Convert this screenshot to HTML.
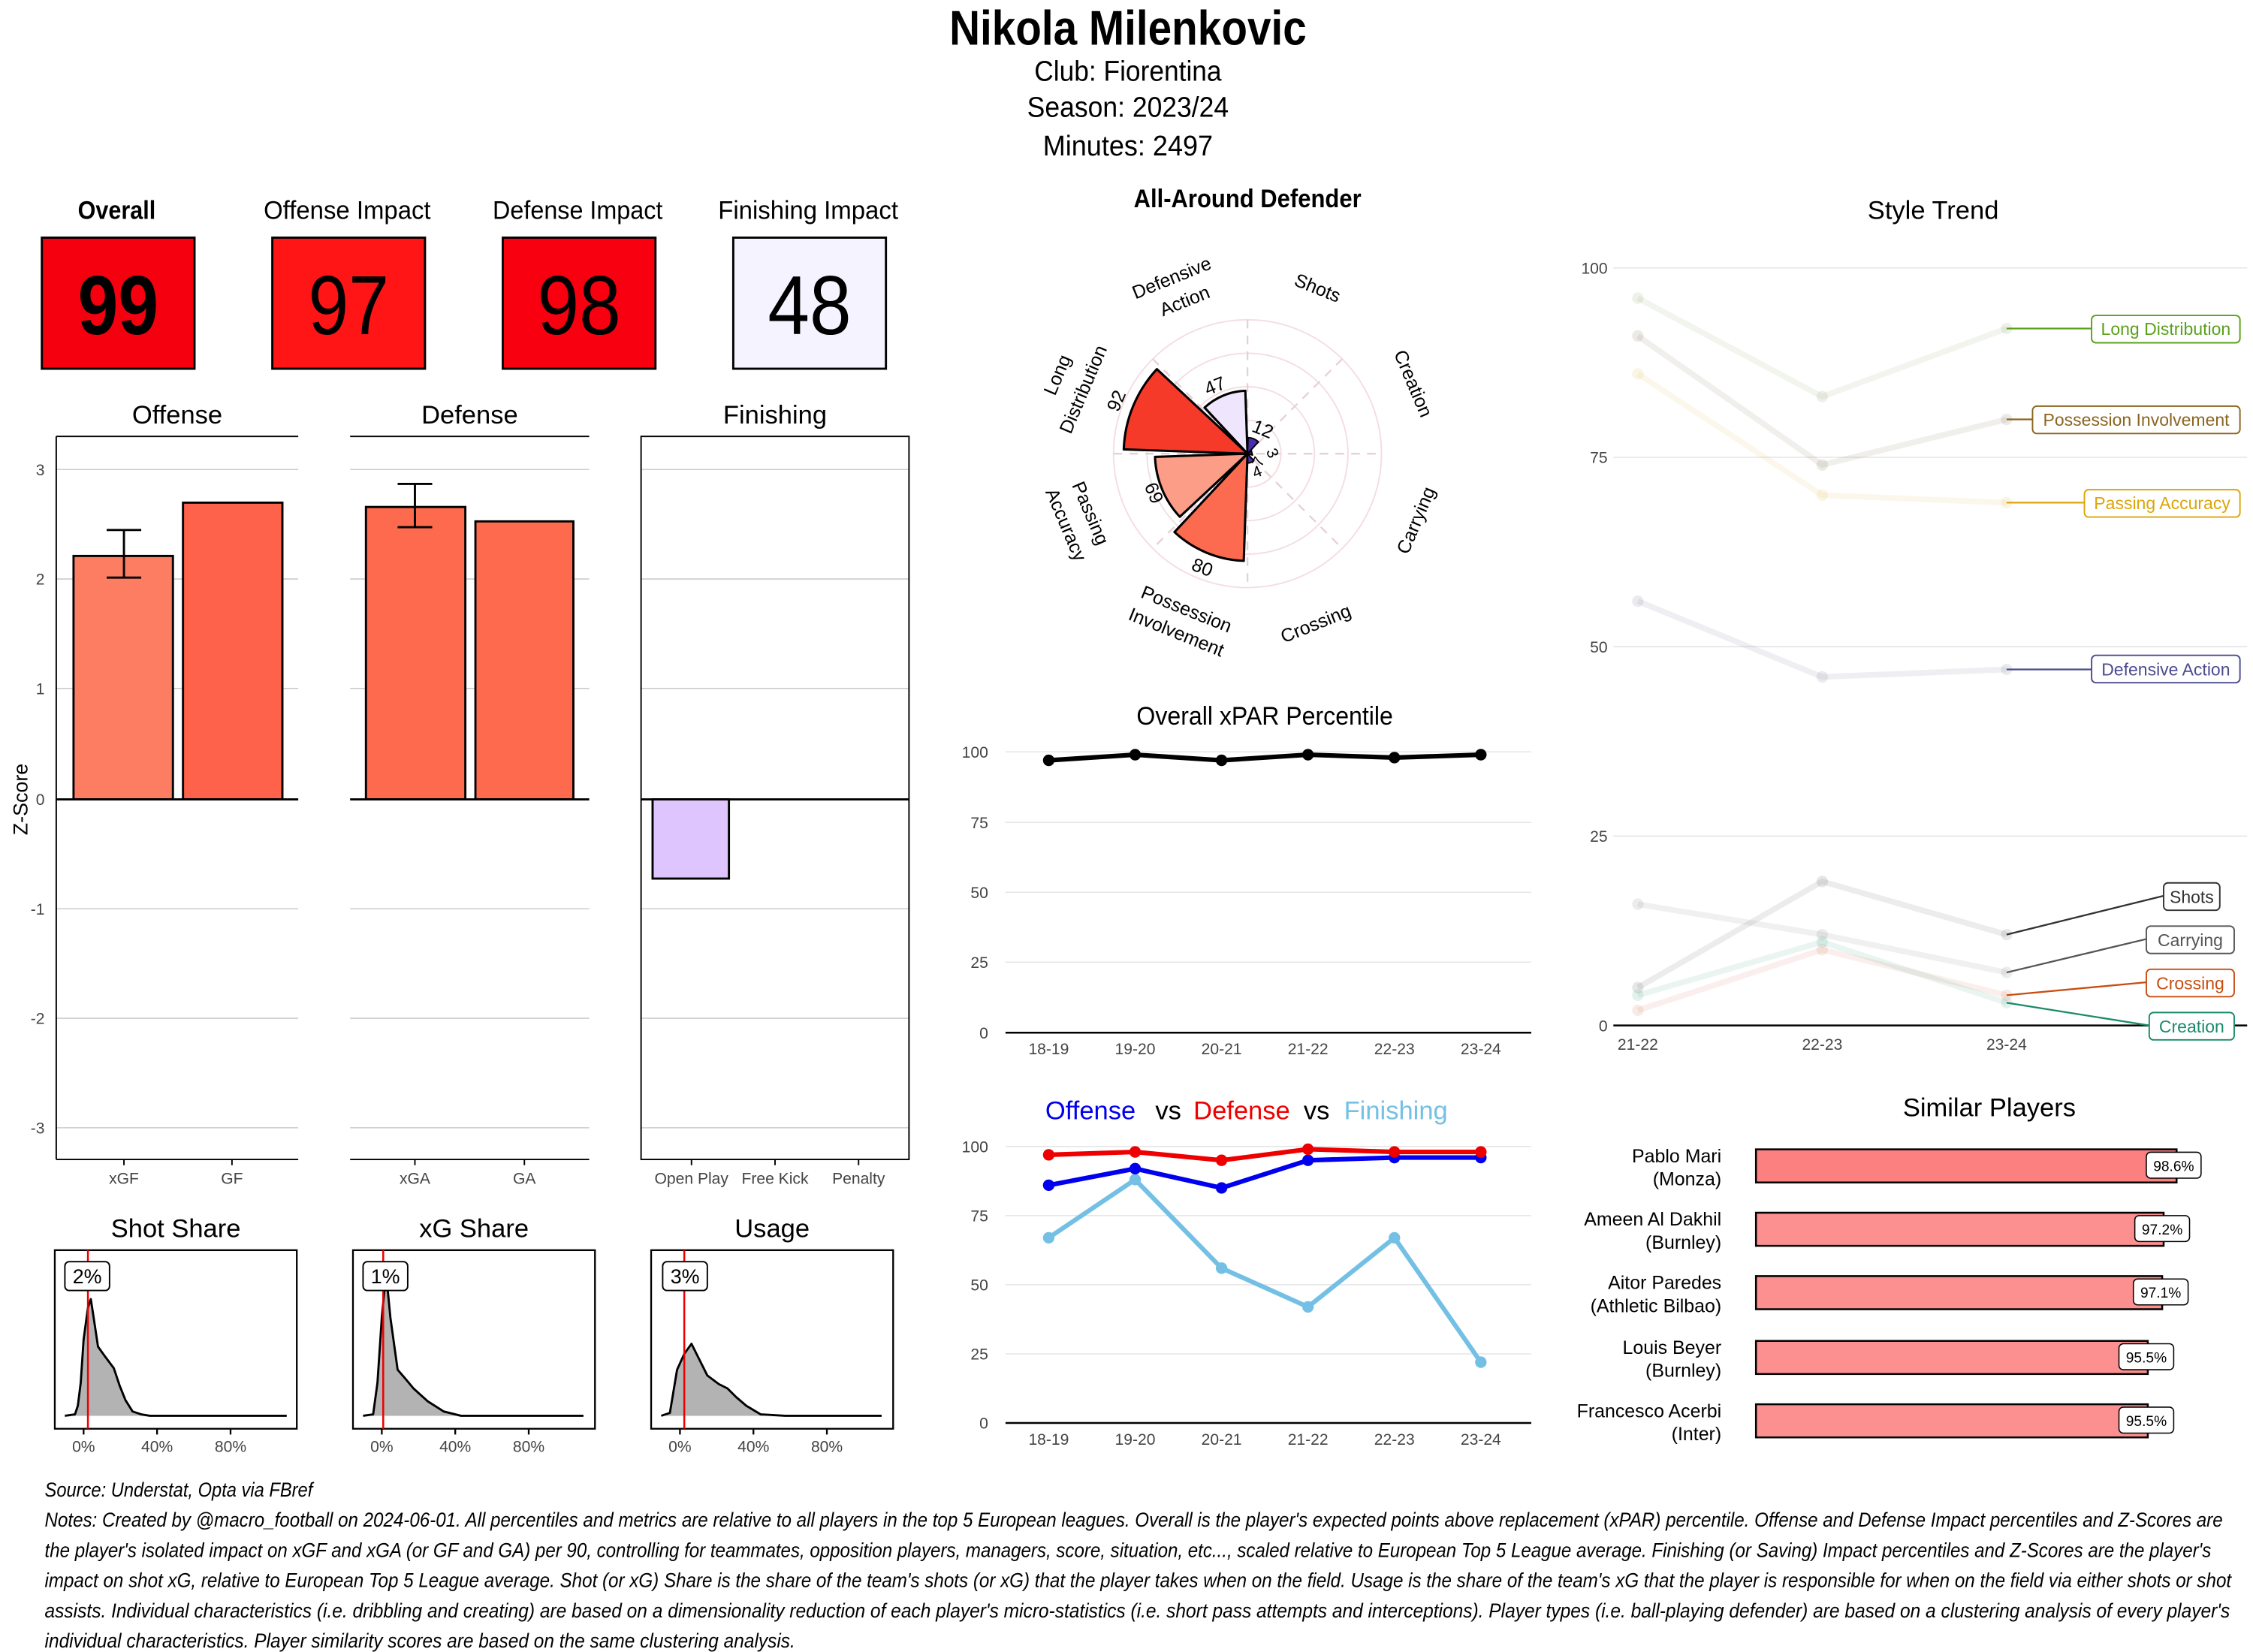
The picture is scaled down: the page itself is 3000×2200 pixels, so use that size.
<!DOCTYPE html>
<html><head><meta charset="utf-8"><style>html,body{margin:0;padding:0;background:#fff}svg{display:block}</style></head><body>
<svg width="3000" height="2200" viewBox="0 0 1564 1147" xmlns="http://www.w3.org/2000/svg" font-family="'Liberation Sans', sans-serif">
<rect width="1564" height="1147" fill="#fff"/>
<text x="783" y="31" text-anchor="middle" font-size="34" font-weight="bold" textLength="248" lengthAdjust="spacingAndGlyphs">Nikola Milenkovic</text>
<text x="783" y="56" text-anchor="middle" font-size="20" textLength="130" lengthAdjust="spacingAndGlyphs">Club:  Fiorentina</text>
<text x="783" y="81" text-anchor="middle" font-size="20" textLength="140" lengthAdjust="spacingAndGlyphs">Season:  2023/24</text>
<text x="783" y="108" text-anchor="middle" font-size="20" textLength="118" lengthAdjust="spacingAndGlyphs">Minutes:  2497</text>

<g font-size="18" text-anchor="middle">
<text x="81" y="152" font-weight="bold" textLength="54" lengthAdjust="spacingAndGlyphs">Overall</text>
<text x="241" y="152" textLength="116" lengthAdjust="spacingAndGlyphs">Offense Impact</text>
<text x="401" y="152" textLength="118" lengthAdjust="spacingAndGlyphs">Defense Impact</text>
<text x="561" y="152" textLength="125" lengthAdjust="spacingAndGlyphs">Finishing Impact</text>
</g>
<rect x="29" y="165" width="106" height="91" fill="#f5000f" stroke="#000" stroke-width="1.5"/>
<rect x="189" y="165" width="106" height="91" fill="#ff1515" stroke="#000" stroke-width="1.5"/>
<rect x="349" y="165" width="106" height="91" fill="#f80010" stroke="#000" stroke-width="1.5"/>
<rect x="509" y="165" width="106" height="91" fill="#f5f3ff" stroke="#000" stroke-width="1.5"/>
<g font-size="58" text-anchor="middle">
<text x="82" y="232" font-weight="bold" textLength="56" lengthAdjust="spacingAndGlyphs">99</text>
<text x="242" y="232" textLength="56" lengthAdjust="spacingAndGlyphs">97</text>
<text x="402" y="232" textLength="58" lengthAdjust="spacingAndGlyphs">98</text>
<text x="562" y="232" textLength="58" lengthAdjust="spacingAndGlyphs">48</text>
</g>

<g font-size="18" text-anchor="middle">
<text x="123" y="294">Offense</text><text x="326" y="294">Defense</text><text x="538" y="294">Finishing</text>
</g>
<g stroke="#ccc" stroke-width="0.8">
<line x1="39" x2="207" y1="326" y2="326"/><line x1="39" x2="207" y1="402" y2="402"/><line x1="39" x2="207" y1="478" y2="478"/><line x1="39" x2="207" y1="631" y2="631"/><line x1="39" x2="207" y1="707" y2="707"/><line x1="39" x2="207" y1="783" y2="783"/>
<line x1="243" x2="409" y1="326" y2="326"/><line x1="243" x2="409" y1="402" y2="402"/><line x1="243" x2="409" y1="478" y2="478"/><line x1="243" x2="409" y1="631" y2="631"/><line x1="243" x2="409" y1="707" y2="707"/><line x1="243" x2="409" y1="783" y2="783"/>
<line x1="445" x2="631" y1="326" y2="326"/><line x1="445" x2="631" y1="402" y2="402"/><line x1="445" x2="631" y1="478" y2="478"/><line x1="445" x2="631" y1="631" y2="631"/><line x1="445" x2="631" y1="707" y2="707"/><line x1="445" x2="631" y1="783" y2="783"/>
</g>
<g stroke="#000" stroke-width="1">
<line x1="39" x2="207" y1="303" y2="303"/><line x1="39" x2="207" y1="805" y2="805"/><line x1="39" x2="39" y1="303" y2="805"/>
<line x1="243" x2="409" y1="303" y2="303"/><line x1="243" x2="409" y1="805" y2="805"/>
<rect x="445" y="303" width="186" height="502" fill="none"/>
<line x1="86" x2="86" y1="805" y2="809"/><line x1="161" x2="161" y1="805" y2="809"/><line x1="288" x2="288" y1="805" y2="809"/><line x1="364" x2="364" y1="805" y2="809"/><line x1="480" x2="480" y1="805" y2="809"/><line x1="538" x2="538" y1="805" y2="809"/><line x1="596" x2="596" y1="805" y2="809"/>
</g>
<g font-size="11" fill="#444" text-anchor="end">
<text x="31" y="330">3</text><text x="31" y="406">2</text><text x="31" y="482">1</text><text x="31" y="559">0</text><text x="31" y="635">-1</text><text x="31" y="711">-2</text><text x="31" y="787">-3</text>
</g>
<text transform="translate(19,555) rotate(-90)" text-anchor="middle" font-size="14">Z-Score</text>
<g font-size="11" fill="#444" text-anchor="middle">
<text x="86" y="822">xGF</text><text x="161" y="822">GF</text><text x="288" y="822">xGA</text><text x="364" y="822">GA</text><text x="480" y="822">Open Play</text><text x="538" y="822">Free Kick</text><text x="596" y="822">Penalty</text>
</g>
<g stroke="#000" stroke-width="1.5">
<rect x="51" y="386" width="69" height="169" fill="#fc7d62"/>
<rect x="127" y="349" width="69" height="206" fill="#fe624a"/>
<rect x="254" y="352" width="69" height="203" fill="#fd6a4d"/>
<rect x="330" y="362" width="68" height="193" fill="#fd6a4d"/>
<rect x="453" y="555" width="53" height="55" fill="#dfc5fe"/>
<line x1="39" x2="207" y1="555" y2="555"/><line x1="243" x2="409" y1="555" y2="555"/><line x1="445" x2="631" y1="555" y2="555"/>
<path d="M74 368H98M86 368V401M74 401H98" fill="none"/>
<path d="M276 336H300M288 336V366M276 366H300" fill="none"/>
</g>

<g font-size="18" text-anchor="middle"><text x="122" y="859">Shot Share</text><text x="329" y="859">xG Share</text><text x="536" y="859">Usage</text></g>
<g fill="none" stroke="#000" stroke-width="1.2">
<rect x="38" y="868" width="168" height="124"/><rect x="245" y="868" width="168" height="124"/><rect x="452" y="868" width="168" height="124"/>
<line x1="58" x2="58" y1="992" y2="996"/><line x1="109" x2="109" y1="992" y2="996"/><line x1="160" x2="160" y1="992" y2="996"/>
<line x1="265" x2="265" y1="992" y2="996"/><line x1="316" x2="316" y1="992" y2="996"/><line x1="367" x2="367" y1="992" y2="996"/>
<line x1="472" x2="472" y1="992" y2="996"/><line x1="523" x2="523" y1="992" y2="996"/><line x1="574" x2="574" y1="992" y2="996"/>
</g>
<g font-size="11" fill="#444" text-anchor="middle">
<text x="58" y="1008">0%</text><text x="109" y="1008">40%</text><text x="160" y="1008">80%</text>
<text x="265" y="1008">0%</text><text x="316" y="1008">40%</text><text x="367" y="1008">80%</text>
<text x="472" y="1008">0%</text><text x="523" y="1008">40%</text><text x="574" y="1008">80%</text>
</g>
<g fill="#b3b3b3" stroke="#000" stroke-width="1.5" stroke-linejoin="round">
<path d="M45 983 L52 982 L54 976 L56 960 L58 930 L61 908 L63 902 L65 915 L68 935 L73 942 L79 950 L83 962 L87 972 L92 980 L98 982 L104 983 L140 983 L199 983"/>
<path d="M252 983 L259 982 L262 960 L265 915 L268 884 L271 915 L276 951 L282 958 L287 964 L297 973 L308 980 L320 983 L360 983 L405 983"/>
<path d="M459 983 L465 981 L470 951 L475 940 L480 933 L485 943 L491 955 L499 961 L505 964 L511 970 L518 976 L528 982 L545 983 L612 983"/>
</g>
<g stroke="#e00" stroke-width="1.3"><line x1="61" x2="61" y1="868" y2="992"/><line x1="266" x2="266" y1="868" y2="992"/><line x1="475" x2="475" y1="868" y2="992"/></g>
<g fill="#fff" stroke="#000" stroke-width="1"><rect x="45" y="876" width="31" height="20" rx="3"/><rect x="252" y="876" width="31" height="20" rx="3"/><rect x="460" y="876" width="31" height="20" rx="3"/></g>
<g font-size="14" text-anchor="middle"><text x="60.5" y="891">2%</text><text x="267.5" y="891">1%</text><text x="475.5" y="891">3%</text></g>

<text x="866" y="144" text-anchor="middle" font-size="18" font-weight="bold" textLength="158" lengthAdjust="spacingAndGlyphs">All-Around Defender</text>
<g fill="none" stroke="#f5dde0" stroke-width="1"><circle cx="866" cy="315" r="23.25"/><circle cx="866" cy="315" r="46.5"/><circle cx="866" cy="315" r="69.75"/><circle cx="866" cy="315" r="93"/></g>
<g stroke="#e8cfd4" stroke-width="1.2" stroke-dasharray="6,5">
<line x1="866" y1="222" x2="866" y2="408"/><line x1="773" y1="315" x2="959" y2="315"/>
<line x1="800.2" y1="249.2" x2="931.8" y2="380.8"/><line x1="931.8" y1="249.2" x2="800.2" y2="380.8"/>
</g>
<g stroke="#000" stroke-width="1.6" stroke-linejoin="round">
<path d="M866 315 L780.1 312 A86 86 0 0 1 803.1 256.3 Z" fill="#f63a2a"/>
<path d="M866 315 L836.2 283 A43.7 43.7 0 0 1 864.5 271.3 Z" fill="#efe6fd"/>
<path d="M866 315 L819 358.8 A64.2 64.2 0 0 1 801.8 317.2 Z" fill="#fc9d88"/>
<path d="M866 315 L863.4 389.4 A74.4 74.4 0 0 1 815.3 369.4 Z" fill="#fc6a4f"/>
<path d="M866 315 L866.4 303.8 A11.2 11.2 0 0 1 873.6 306.8 Z" fill="#4b2fa8" stroke-width="1"/>
<path d="M866 315 L870.4 319.8 A6.5 6.5 0 0 1 866.2 321.5 Z" fill="#4b2fa8" stroke-width="1"/>
<path d="M866 315 L868.7 313 L869.5 316 Z" fill="#4b2fa8" stroke-width="1"/>
</g>
<g font-size="13" text-anchor="middle">
<text transform="translate(779,280) rotate(-67)">92</text>
<text transform="translate(845,272) rotate(-22)">47</text>
<text transform="translate(797,344) rotate(67)">69</text>
<text transform="translate(833,398) rotate(22)">80</text>
<text transform="translate(875,302) rotate(22)">12</text>
<text transform="translate(880,316) rotate(67)" font-size="11">3</text>
<text transform="translate(877,322) rotate(-67)" font-size="11">7</text>
<text transform="translate(874,331) rotate(-22)" font-size="11">4</text>
</g>
<g font-size="13" text-anchor="middle">
<text transform="translate(815,197) rotate(-22)">Defensive</text><text transform="translate(824,213) rotate(-22)">Action</text>
<text transform="translate(913,204) rotate(22)">Shots</text>
<text transform="translate(977,268) rotate(67)">Creation</text>
<text transform="translate(987,363) rotate(-67)">Carrying</text>
<text transform="translate(915,437) rotate(-22)">Crossing</text>
<text transform="translate(822,427) rotate(22)">Possession</text><text transform="translate(815,443) rotate(22)">Involvement</text>
<text transform="translate(738,262) rotate(-67)">Long</text><text transform="translate(756,272) rotate(-67)">Distribution</text>
<text transform="translate(753,358) rotate(67)">Passing</text><text transform="translate(736,366) rotate(67)">Accuracy</text>
</g>

<text x="878" y="503" text-anchor="middle" font-size="18" textLength="178" lengthAdjust="spacingAndGlyphs">Overall xPAR Percentile</text>
<g stroke="#e5e5e5" stroke-width="0.8"><line x1="698" x2="1063" y1="522" y2="522"/><line x1="698" x2="1063" y1="571" y2="571"/><line x1="698" x2="1063" y1="619.5" y2="619.5"/><line x1="698" x2="1063" y1="668" y2="668"/></g>
<line x1="698" x2="1063" y1="717" y2="717" stroke="#000" stroke-width="1.3"/>
<g font-size="11" fill="#444" text-anchor="end"><text x="686" y="526">100</text><text x="686" y="575">75</text><text x="686" y="623.5">50</text><text x="686" y="672">25</text><text x="686" y="721">0</text></g>
<g font-size="11" fill="#444" text-anchor="middle"><text x="728" y="732">18-19</text><text x="788" y="732">19-20</text><text x="848" y="732">20-21</text><text x="908" y="732">21-22</text><text x="968" y="732">22-23</text><text x="1028" y="732">23-24</text></g>
<polyline points="728,527.9 788,524 848,527.9 908,524 968,526 1028,524" fill="none" stroke="#000" stroke-width="3.2"/>
<g fill="#000"><circle cx="728" cy="527.9" r="4"/><circle cx="788" cy="524" r="4"/><circle cx="848" cy="527.9" r="4"/><circle cx="908" cy="524" r="4"/><circle cx="968" cy="526" r="4"/><circle cx="1028" cy="524" r="4"/></g>

<g font-size="18" text-anchor="middle">
<text x="757" y="777" fill="#0000ee">Offense</text><text x="811" y="777">vs</text><text x="862" y="777" fill="#ee0000">Defense</text><text x="914" y="777">vs</text><text x="969" y="777" fill="#74c0e4">Finishing</text>
</g>
<g stroke="#e5e5e5" stroke-width="0.8"><line x1="698" x2="1063" y1="796" y2="796"/><line x1="698" x2="1063" y1="844" y2="844"/><line x1="698" x2="1063" y1="892" y2="892"/><line x1="698" x2="1063" y1="940" y2="940"/></g>
<line x1="698" x2="1063" y1="988" y2="988" stroke="#000" stroke-width="1.3"/>
<g font-size="11" fill="#444" text-anchor="end"><text x="686" y="800">100</text><text x="686" y="848">75</text><text x="686" y="896">50</text><text x="686" y="944">25</text><text x="686" y="992">0</text></g>
<g font-size="11" fill="#444" text-anchor="middle"><text x="728" y="1003">18-19</text><text x="788" y="1003">19-20</text><text x="848" y="1003">20-21</text><text x="908" y="1003">21-22</text><text x="968" y="1003">22-23</text><text x="1028" y="1003">23-24</text></g>
<g fill="none" stroke-width="3.2">
<polyline points="728,859.4 788,819 848,880.5 908,907.4 968,859.4 1028,945.8" stroke="#74c0e4"/>
<polyline points="728,822.9 788,811.4 848,824.8 908,805.6 968,803.7 1028,803.7" stroke="#0000ee"/>
<polyline points="728,801.8 788,799.8 848,805.6 908,797.9 968,799.8 1028,799.8" stroke="#ee0000"/>
</g>
<g fill="#74c0e4"><circle cx="728" cy="859.4" r="4"/><circle cx="788" cy="819" r="4"/><circle cx="848" cy="880.5" r="4"/><circle cx="908" cy="907.4" r="4"/><circle cx="968" cy="859.4" r="4"/><circle cx="1028" cy="945.8" r="4"/></g>
<g fill="#0000ee"><circle cx="728" cy="822.9" r="4"/><circle cx="788" cy="811.4" r="4"/><circle cx="848" cy="824.8" r="4"/><circle cx="908" cy="805.6" r="4"/><circle cx="968" cy="803.7" r="4"/><circle cx="1028" cy="803.7" r="4"/></g>
<g fill="#ee0000"><circle cx="728" cy="801.8" r="4"/><circle cx="788" cy="799.8" r="4"/><circle cx="848" cy="805.6" r="4"/><circle cx="908" cy="797.9" r="4"/><circle cx="968" cy="799.8" r="4"/><circle cx="1028" cy="799.8" r="4"/></g>

<text x="1342" y="152" text-anchor="middle" font-size="18">Style Trend</text>
<g stroke="#e5e5e5" stroke-width="0.8"><line x1="1120" x2="1560" y1="186" y2="186"/><line x1="1120" x2="1560" y1="317.5" y2="317.5"/><line x1="1120" x2="1560" y1="449" y2="449"/><line x1="1120" x2="1560" y1="580.5" y2="580.5"/></g>
<line x1="1120" x2="1560" y1="712" y2="712" stroke="#000" stroke-width="1.3"/>
<g font-size="11" fill="#444" text-anchor="end"><text x="1116" y="190">100</text><text x="1116" y="321.5">75</text><text x="1116" y="453">50</text><text x="1116" y="584.5">25</text><text x="1116" y="716">0</text></g>
<g font-size="11" fill="#444" text-anchor="middle"><text x="1137" y="729">21-22</text><text x="1265" y="729">22-23</text><text x="1393" y="729">23-24</text></g>
<g fill="none" stroke-width="4" stroke-opacity="0.11">
<polyline points="1137,207 1265,275.4 1393,228.1" stroke="#8a9a60"/>
<polyline points="1137,233.3 1265,322.8 1393,291.2" stroke="#7a6a50"/>
<polyline points="1137,259.6 1265,343.8 1393,349" stroke="#e3b84c"/>
<polyline points="1137,417.4 1265,470 1393,464.8" stroke="#707090"/>
<polyline points="1137,685.7 1265,612 1393,648.9" stroke="#555"/>
<polyline points="1137,627.8 1265,648.9 1393,675.2" stroke="#777"/>
<polyline points="1137,701.5 1265,659.4 1393,691" stroke="#d07050"/>
<polyline points="1137,691 1265,654 1393,696.2" stroke="#40a080"/>
</g>
<g fill-opacity="0.14">
<circle cx="1137" cy="207" r="4" fill="#8a9a60"/><circle cx="1265" cy="275.4" r="4" fill="#8a9a60"/><circle cx="1393" cy="228.1" r="4" fill="#8a9a60"/>
<circle cx="1137" cy="233.3" r="4" fill="#7a6a50"/><circle cx="1265" cy="322.8" r="4" fill="#7a6a50"/><circle cx="1393" cy="291.2" r="4" fill="#7a6a50"/>
<circle cx="1137" cy="259.6" r="4" fill="#e3b84c"/><circle cx="1265" cy="343.8" r="4" fill="#e3b84c"/><circle cx="1393" cy="349" r="4" fill="#e3b84c"/>
<circle cx="1137" cy="417.4" r="4" fill="#707090"/><circle cx="1265" cy="470" r="4" fill="#707090"/><circle cx="1393" cy="464.8" r="4" fill="#707090"/>
<circle cx="1137" cy="685.7" r="4" fill="#555"/><circle cx="1265" cy="612" r="4" fill="#555"/><circle cx="1393" cy="648.9" r="4" fill="#555"/>
<circle cx="1137" cy="627.8" r="4" fill="#777"/><circle cx="1265" cy="648.9" r="4" fill="#777"/><circle cx="1393" cy="675.2" r="4" fill="#777"/>
<circle cx="1137" cy="701.5" r="4" fill="#d07050"/><circle cx="1265" cy="659.4" r="4" fill="#d07050"/><circle cx="1393" cy="691" r="4" fill="#d07050"/>
<circle cx="1137" cy="691" r="4" fill="#40a080"/><circle cx="1265" cy="654" r="4" fill="#40a080"/><circle cx="1393" cy="696.2" r="4" fill="#40a080"/>
</g>
<g stroke-width="1.2" fill="none">
<line x1="1393" y1="228.1" x2="1452" y2="228.1" stroke="#5aa01a"/>
<line x1="1393" y1="291.2" x2="1411" y2="291.2" stroke="#8a6521"/>
<line x1="1393" y1="349" x2="1447" y2="349" stroke="#dca50a"/>
<line x1="1393" y1="464.8" x2="1452" y2="464.8" stroke="#4b4b8f"/>
<line x1="1393" y1="648.9" x2="1502" y2="622" stroke="#333"/>
<line x1="1393" y1="675.2" x2="1490" y2="652" stroke="#555"/>
<line x1="1393" y1="691" x2="1490" y2="682" stroke="#c84d10"/>
<line x1="1393" y1="696.2" x2="1492" y2="712" stroke="#1a8a6a"/>
</g>
<g fill="#fff" stroke-width="1">
<rect x="1452" y="219" width="103" height="19" rx="3" stroke="#5aa01a"/>
<rect x="1411" y="282" width="144" height="19" rx="3" stroke="#8a6521"/>
<rect x="1447" y="340" width="108" height="19" rx="3" stroke="#dca50a"/>
<rect x="1452" y="455" width="103" height="19" rx="3" stroke="#4b4b8f"/>
<rect x="1502" y="613" width="39" height="19" rx="3" stroke="#333"/>
<rect x="1490" y="643" width="61" height="19" rx="3" stroke="#555"/>
<rect x="1490" y="673" width="61" height="19" rx="3" stroke="#c84d10"/>
<rect x="1492" y="703" width="59" height="19" rx="3" stroke="#1a8a6a"/>
</g>
<g font-size="12" text-anchor="middle">
<text x="1503.5" y="232.5" fill="#5aa01a">Long Distribution</text>
<text x="1483" y="295.5" fill="#8a6521">Possession Involvement</text>
<text x="1501" y="353.5" fill="#dca50a">Passing Accuracy</text>
<text x="1503.5" y="469" fill="#4b4b8f">Defensive Action</text>
<text x="1521.5" y="627" fill="#333">Shots</text>
<text x="1520.5" y="657" fill="#555">Carrying</text>
<text x="1520.5" y="687" fill="#c84d10">Crossing</text>
<text x="1521.5" y="717" fill="#1a8a6a">Creation</text>
</g>

<text x="1381" y="775" text-anchor="middle" font-size="18">Similar Players</text>
<g font-size="13" text-anchor="end">
<text x="1195" y="807">Pablo Mari</text><text x="1195" y="823">(Monza)</text>
<text x="1195" y="851">Ameen Al Dakhil</text><text x="1195" y="867">(Burnley)</text>
<text x="1195" y="895">Aitor Paredes</text><text x="1195" y="911">(Athletic Bilbao)</text>
<text x="1195" y="940">Louis Beyer</text><text x="1195" y="956">(Burnley)</text>
<text x="1195" y="984">Francesco Acerbi</text><text x="1195" y="1000">(Inter)</text>
</g>
<g stroke="#000" stroke-width="1.3">
<rect x="1219" y="798" width="292" height="23" fill="#fc8080"/>
<rect x="1219" y="842" width="283" height="23" fill="#fc8f8f"/>
<rect x="1219" y="886" width="282" height="23" fill="#fc8f8f"/>
<rect x="1219" y="931" width="272" height="23" fill="#fc9090"/>
<rect x="1219" y="975" width="272" height="23" fill="#fc9090"/>
</g>
<g fill="#fff" stroke="#000" stroke-width="0.8">
<rect x="1490" y="800" width="38" height="18" rx="3"/><rect x="1482" y="844" width="38" height="18" rx="3"/><rect x="1481" y="888" width="38" height="18" rx="3"/><rect x="1471" y="933" width="38" height="18" rx="3"/><rect x="1471" y="977" width="38" height="18" rx="3"/>
</g>
<g font-size="10" text-anchor="middle">
<text x="1509" y="813">98.6%</text><text x="1501" y="857">97.2%</text><text x="1500" y="901">97.1%</text><text x="1490" y="946">95.5%</text><text x="1490" y="990">95.5%</text>
</g>

<g font-size="14" font-style="italic">
<text x="31" y="1039" textLength="186" lengthAdjust="spacingAndGlyphs">Source: Understat, Opta via FBref</text>
<text x="31" y="1060" textLength="1512" lengthAdjust="spacingAndGlyphs">Notes: Created by @macro_football on 2024-06-01. All percentiles and metrics are relative to all players in the top 5 European leagues. Overall is the player's expected points above replacement (xPAR) percentile. Offense and Defense Impact percentiles and Z-Scores are</text>
<text x="31" y="1081" textLength="1504" lengthAdjust="spacingAndGlyphs">the player's isolated impact on xGF and xGA (or GF and GA) per 90, controlling for teammates, opposition players, managers, score, situation, etc..., scaled relative to European Top 5 League average. Finishing (or Saving) Impact percentiles and Z-Scores are the player's</text>
<text x="31" y="1102" textLength="1518" lengthAdjust="spacingAndGlyphs">impact on shot xG, relative to European Top 5 League average. Shot (or xG) Share is the share of the team's shots (or xG) that the player takes when on the field. Usage is the share of the team's xG that the player is responsible for when on the field via either shots or shot</text>
<text x="31" y="1123" textLength="1517" lengthAdjust="spacingAndGlyphs">assists. Individual characteristics (i.e. dribbling and creating) are based on a dimensionality reduction of each player's micro-statistics (i.e. short pass attempts and interceptions). Player types (i.e. ball-playing defender) are based on a clustering analysis of every player's</text>
<text x="31" y="1144" textLength="521" lengthAdjust="spacingAndGlyphs">individual characteristics. Player similarity scores are based on the same clustering analysis.</text>
</g>
</svg>
</body></html>
